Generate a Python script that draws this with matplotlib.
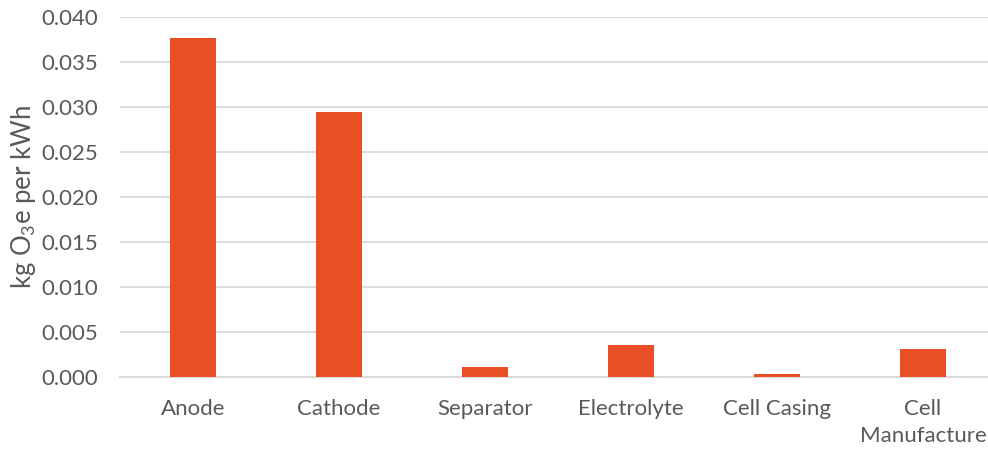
import matplotlib
matplotlib.use("Agg")
import matplotlib.pyplot as plt

categories = ["Anode", "Cathode", "Separator", "Electrolyte", "Cell Casing", "Cell\nManufacture"]
values = [0.0376, 0.0294, 0.00105, 0.0035, 0.00033, 0.00305]
yticks = [0.000, 0.005, 0.010, 0.015, 0.020, 0.025, 0.030, 0.035, 0.040]

plt.rcParams["font.family"] = ["Lato", "DejaVu Sans"]
plt.rcParams["mathtext.default"] = "regular"

fig = plt.figure(figsize=(9.88, 4.49), dpi=100)
ax = fig.add_axes([120 / 988, 72.3 / 449, 876 / 988, 360 / 449])

x = list(range(len(categories)))
ax.bar(x, values, width=0.315, color="#E94F24", zorder=3)

ax.set_xlim(-0.5, len(categories) - 0.5)
ax.set_ylim(0, 0.040)
ax.set_yticks(yticks)
ax.set_yticklabels([f"{v:.3f}" for v in yticks])
ax.set_xticks(x)
ax.set_xticklabels(categories, linespacing=1.45)

ax.yaxis.grid(True, color="#D9D9D9", linewidth=1.3, zorder=0)
for side in ["top", "right", "left"]:
    ax.spines[side].set_visible(False)
ax.spines["bottom"].set_color("#D9D9D9")
ax.spines["bottom"].set_linewidth(1.3)

ax.tick_params(axis="both", length=0, labelsize=16, colors="#595959")
ax.tick_params(axis="x", pad=16)
ax.tick_params(axis="y", pad=16)

ax.set_ylabel("kg O$_3$e per kWh", fontsize=18.5, color="#595959", labelpad=2)

fig.savefig("out.png", dpi=100)
